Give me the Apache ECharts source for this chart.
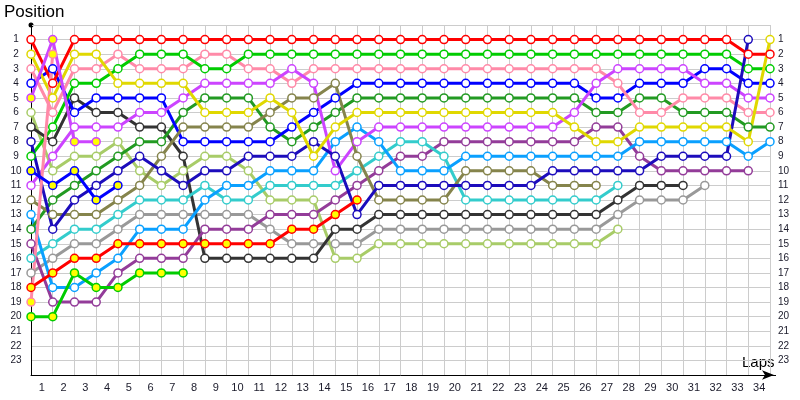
<!DOCTYPE html>
<html>
<head>
<meta charset="utf-8">
<script src="https://cdn.jsdelivr.net/npm/echarts@6/dist/echarts.min.js"></script>
<style>html,body{margin:0;padding:0;background:#fff}#chart{width:800px;height:400px}</style>
</head>
<body>
<div id="chart"></div>
<script>
// positions per lap, index = lap (0 = start)
var red       = [1,4,1,1,1,1,1,1,1,1, 1,1,1,1,1,1,1,1,1,1, 1,1,1,1,1,1,1,1,1,1, 1,1,1,2,2];
var green     = [9,7,4,4,3,2,2,2,3,3, 2,2,2,2,2,2,2,2,2,2, 2,2,2,2,2,2,2,2,2,2, 2,2,2,3,3];
var pink      = [3,6,3,3,2,3,3,3,2,2, 3,3,4,3,3,3,3,3,3,3, 3,3,3,3,3,3,3,4,6,6, 5,5,5,6,6];
var violet    = [11,9,7,7,7,6,6,5,4,4, 4,4,3,4,10,8,7,7,7,7, 7,7,7,7,7,6,4,3,3,3, 3,4,4,5,5];
var blue      = [4,3,6,5,5,5,5,8,8,8, 8,8,7,6,5,4,4,4,4,4, 4,4,4,4,4,4,5,5,4,4, 4,3,3,4,4];
var forest    = [14,12,11,10,9,8,8,6,5,5, 5,7,8,7,6,5,5,5,5,5, 5,5,5,5,5,5,6,6,5,5, 6,6,6,7,7];
var yellow    = [2,5,2,2,4,4,4,4,6,6, 6,5,6,9,7,6,6,6,6,6, 6,6,6,6,6,7,8,8,7,7, 7,7,7,8,1];
var purple    = [15,19,19,19,17,16,16,16,14,14, 14,13,13,13,12,11,10,9,9,8, 8,8,8,8,8,8,7,7,9,10, 10,10,10,10];
var lightBlue = [13,18,18,17,16,14,14,14,12,11, 11,10,10,10,8,7,8,10,10,10, 9,9,9,9,9,9,9,9,8,8, 8,8,8,9,8];
var olive     = [12,13,13,13,12,11,9,7,7,7, 7,6,5,5,4,9,12,12,12,12, 10,10,10,10,11,11,11];
var navy      = [8,14,12,11,10,9,10,11,10,10, 9,9,9,8,9,13,11,11,11,11, 11,11,11,11,10,10,10,10,10,9, 9,9,9,1];
var cyan      = [16,15,14,14,13,12,12,12,11,12, 12,11,11,11,11,10,9,8,8,9, 12,12,12,12,12,12,12,11];
var darkGray  = [7,8,5,6,6,7,7,9,16,16, 16,16,16,16,14,14,13,13,13,13, 13,13,13,13,13,13,13,12,11,11, 11];
var gray      = [17,16,15,15,14,13,13,13,13,13, 13,14,15,15,15,15,14,14,14,14, 14,14,14,14,14,14,14,13,12,12, 12,11];
var yellowGreen = [6,10,9,9,8,10,11,10,9,9, 10,12,12,12,16,16,15,15,15,15, 15,15,15,15,15,15,15,14];
// second drivers (yellow markers)
var red2    = [18,17,16,16,15,15,15,15,15,15, 15,15,14,14,13,12];
var green2  = [20,20,17,18,18,17,17,17];
var violet2 = [5,1,8,8];
var pink2   = [19,2];
var blue2   = [10,11,10,12,11];

var lapLabels = [];
for (var i = 1; i <= 34; i++) lapLabels.push(String(i));

// drawing order: later = on top
var drivers = [
    {d: gray, c: '#999999'},
    {d: yellowGreen, c: '#a8cc68'},
    {d: darkGray, c: '#333333'},
    {d: purple, c: '#933c99'},
    {d: cyan, c: '#33cccc'},
    {d: lightBlue, c: '#0aa0ff'},
    {d: forest, c: '#229a22'},
    {d: blue, c: '#0000ff'},
    {d: pink, c: '#ff8aa8'},
    {d: green, c: '#00cc00'},
    {d: red, c: '#ff0000'},
    {d: violet, c: '#cc44ff'},
    {d: olive, c: '#85844c'},
    {d: navy, c: '#1c0cbc'},
    {d: yellow, c: '#e0d800'},
    {d: red2, c: '#ff0000', fill: '#ffff00'},
    {d: green2, c: '#00cc00', fill: '#ffff00'},
    {d: violet2, c: '#cc44ff', fill: '#ffff00'},
    {d: pink2, c: '#ff8aa8', fill: '#ffff00'},
    {d: blue2, c: '#0000ff', fill: '#ffff00'}
];

var series = drivers.map(function (s) {
    return {
        type: 'line',
        xAxisIndex: 0,
        yAxisIndex: 0,
        data: s.d.map(function (p, lap) { return [lap, p]; }),
        symbol: 'circle',
        symbolSize: 8,
        showAllSymbol: true,
        lineStyle: {color: s.c, width: 3},
        itemStyle: {color: s.fill || '#ffffff', borderColor: s.c, borderWidth: 1.5},
        emphasis: {disabled: true},
        animation: false
    };
});

var font = 'Liberation Sans';
var posLabel = function (v) { return (v >= 1 && v <= 23) ? v : ''; };

var option = {
    animation: false,
    grid: {left: 31, right: 30, top: 25, bottom: 25},
    xAxis: [{
        type: 'value', min: 0, max: 34, interval: 1, position: 'bottom',
        axisLine: {onZero: false, lineStyle: {color: '#000', width: 1}, symbol: ['none', 'arrow'], symbolSize: [7, 12], symbolOffset: [0, 4]},
        axisTick: {show: false},
        axisLabel: {show: false},
        splitLine: {show: true, lineStyle: {color: '#cccccc', width: 1}}
    }, {
        type: 'category', data: lapLabels, boundaryGap: true, position: 'bottom',
        axisLine: {show: false, onZero: false}, axisTick: {show: false}, splitLine: {show: false},
        axisLabel: {interval: 0, color: '#1a1a2a', fontFamily: font, fontSize: 11, margin: 7}
    }],
    yAxis: [{
        type: 'value', inverse: true, min: 0, max: 24, interval: 1,
        axisLine: {show: true, onZero: false, lineStyle: {color: '#000', width: 1}},
        axisTick: {show: false},
        axisLabel: {formatter: posLabel, color: '#1a1a2a', fontFamily: font, fontSize: 10, align: 'center', margin: 15},
        splitLine: {show: true, lineStyle: {color: '#cccccc', width: 1}}
    }, {
        type: 'value', inverse: true, min: 0, max: 24, interval: 1, position: 'right',
        axisLine: {show: false}, axisTick: {show: false}, splitLine: {show: false},
        axisLabel: {formatter: posLabel, color: '#1a1a2a', fontFamily: font, fontSize: 10, align: 'left', margin: 8}
    }],
    graphic: [
        {type: 'text', left: 4, top: 4, style: {text: 'Position', fontFamily: font, fontSize: 17, fill: '#000'}},
        {type: 'text', left: 742, top: 355, style: {text: 'Laps', fontFamily: font, fontSize: 15, fill: '#000'}},
        {type: 'circle', shape: {cx: 31, cy: 25, r: 2.5}, style: {fill: '#000'}},
        {type: 'line', shape: {x1: 770, y1: 375.5, x2: 776, y2: 375.5}, style: {stroke: '#000', lineWidth: 1}}
    ],
    series: series
};

var myChart = echarts.init(document.getElementById('chart'));
myChart.setOption(option);
</script>
</body>
</html>
